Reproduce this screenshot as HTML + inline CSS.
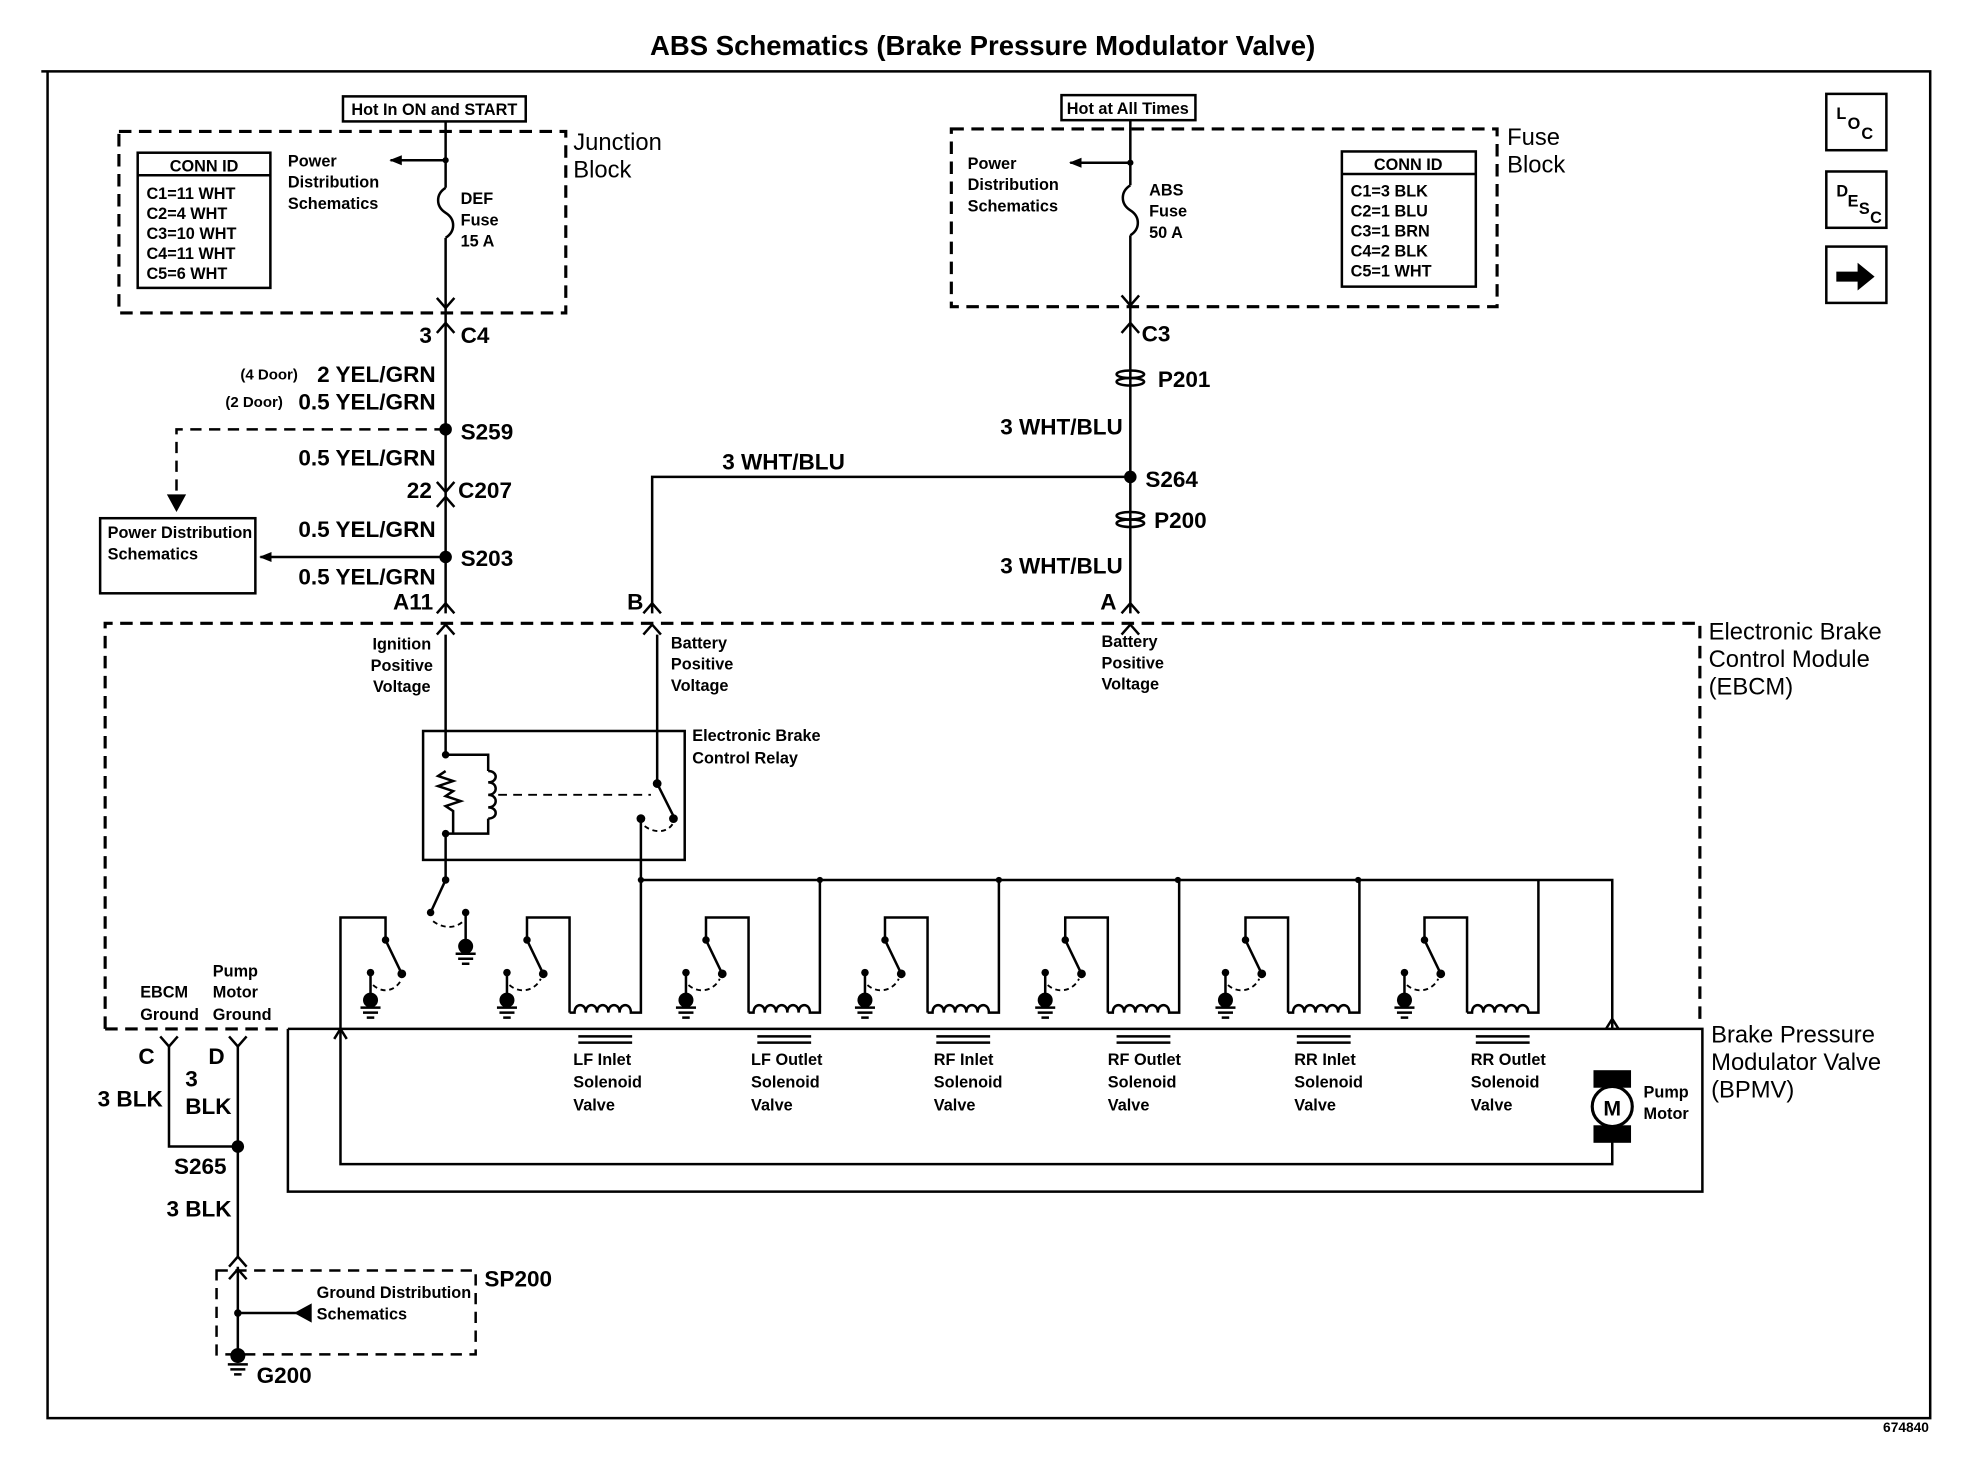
<!DOCTYPE html>
<html><head><meta charset="utf-8"><style>
html,body{margin:0;padding:0;background:#fff;}
svg{display:block;}
text{font-family:"Liberation Sans",Arial,sans-serif;fill:#000;}
.s{font-size:13px;font-weight:bold;}
.m{font-size:18px;font-weight:bold;}
.l{font-size:19px;}
</style></head><body>
<svg width="1964" height="1472" viewBox="0 0 1569 1176" preserveAspectRatio="none" xmlns="http://www.w3.org/2000/svg">
<defs>
<marker id="ar" markerWidth="10" markerHeight="10" refX="9" refY="5" orient="auto" markerUnits="userSpaceOnUse"><path d="M0,1 L10,5 L0,9 z" fill="#000"/></marker>
</defs>
<g fill="none" stroke="#000" stroke-width="2">
<path d="M33,57 H1542 V1133 H38 V57"/>
<rect x="1459" y="75" width="48" height="45"/>
<rect x="1459" y="137" width="48" height="45"/>
<rect x="1459" y="197" width="48" height="45"/>
<!-- junction block -->
<rect x="95" y="105" width="357" height="145" stroke-dasharray="10,6" stroke-width="2.5"/>
<rect x="274" y="77" width="146" height="20"/>
<rect x="110" y="122" width="106" height="108"/>
<path d="M110,140 H216"/>
<path d="M356,97 V150 M356,190 V490"/>
<path d="M356,150 c-8,5 -8,15 0,20 c8,5 8,15 0,20"/>
<path d="M356,128 H312" marker-end="url(#ar)"/>
<path d="M349,238 L356,246 L363,238"/>
<path d="M349,266 L356,258 L363,266"/>
<!-- fuse block -->
<rect x="760" y="103" width="436" height="142" stroke-dasharray="10,6" stroke-width="2.5"/>
<rect x="848" y="76" width="107" height="20"/>
<rect x="1072" y="121" width="107" height="108"/>
<path d="M1072,139 H1179"/>
<path d="M903,96 V148 M903,188 V490"/>
<path d="M903,148 c-8,5 -8,15 0,20 c8,5 8,15 0,20"/>
<path d="M903,130 H855" marker-end="url(#ar)"/>
<path d="M896,236 L903,244 L910,236"/>
<path d="M896,266 L903,258 L910,266"/>
<ellipse cx="903" cy="299" rx="11" ry="3"/><ellipse cx="903" cy="305" rx="11" ry="3"/>
<ellipse cx="903" cy="412" rx="11" ry="3"/><ellipse cx="903" cy="418" rx="11" ry="3"/>
<path d="M903,381 H521 V490"/>
<path d="M514,490 L521,482 L528,490"/>
<path d="M896,490 L903,482 L910,490"/>
<path d="M349,490 L356,482 L363,490"/>
<path d="M349,405 L356,397 L363,405"/>
<path d="M349,385 L356,393 L363,385"/>
<path d="M356,343 H141 V403" stroke-dasharray="9,6"/>
<path d="M135,396 L141,407 L147,396 z" fill="#000"/>
<rect x="80" y="414" width="124" height="60"/>
<path d="M356,445 H208" marker-end="url(#ar)"/>
<!-- EBCM -->
<path d="M84,822 V498 H1358 V815" stroke-dasharray="10,6" stroke-width="2.5"/>
<path d="M84,822 H228" stroke-dasharray="10,6" stroke-width="2.5"/>
<path d="M349,507 L356,499 L363,507 M514,507 L521,499 L528,507 M896,507 L903,499 L910,507"/>
<!-- relay -->
<rect x="338" y="584" width="209" height="103"/>
<path d="M356,507 V603 M356,666 V703"/>
<path d="M356,603 H390 V616 M390,654 V666 H356"/>
<path d="M356,616 l-6,4 l12,4 l-12,4 l12,4 l-6,4 l12,4 l-12,4 l6,4 V666"/>
<path d="M390,616 c8,0 8,9 0,9 c8,0 8,10 0,10 c8,0 8,10 0,10 c8,0 8,9 0,9"/>
<path d="M398,635 H520" stroke-dasharray="7,5" stroke-width="1.5"/>
<path d="M525,507 V626 L538,652"/>
<path d="M512,654 V703 H1288 V822"/>
<path d="M515,660 c8,6 20,6 24,-5" stroke-dasharray="4,3" stroke-width="1.5"/>
<path d="M356,703 L344,729"/>
<path d="M346,736 c8,6 18,6 24,0" stroke-dasharray="4,3" stroke-width="1.5"/>
<path d="M372,729 V756 M364,762 H380 M366,766 H378 M369,770 H375"/>
<!-- pump switch group -->
<path d="M272,822 V733 H308 V751 L321,778"/>
<path d="M296,777 V799 M288,805 H304 M290,809 H302 M293,813 H299"/>
<path d="M298,787 c8,7 18,5 23,-5" stroke-dasharray="4,3" stroke-width="1.5"/>
<path d="M267,830 L272,822 L277,830"/>
<path d="M272,822 V930 H1288 V909"/>
<!-- solenoid group -->
<g id="g1">
<path d="M421,751 V733 H455 V809"/>
<path d="M421,751 L434,778"/>
<path d="M405,777 V799 M397,805 H413 M399,809 H411 M402,813 H408"/>
<path d="M407,787 c8,7 20,5 25,-5" stroke-dasharray="4,3" stroke-width="1.5"/>
<path d="M455,809 H459 c0,-8 9,-8 9,0 c0,-8 9,-8 9,0 c0,-8 9,-8 9,0 c0,-8 9,-8 9,0 c0,-8 9,-8 9,0 H512 V703"/>
<path d="M462,828 H505 M462,833 H505" stroke-width="2"/>
</g>
<use href="#g1" x="143"/>
<use href="#g1" x="286"/>
<use href="#g1" x="430"/>
<use href="#g1" x="574"/>
<use href="#g1" x="717"/>
<!-- BPMV -->
<path d="M230,822 H1360 V952 H230 V822"/>
<path d="M1283,822 L1288,814 L1293,822"/>
<rect x="1274" y="856" width="28" height="12" fill="#000"/>
<rect x="1274" y="900" width="28" height="12" fill="#000"/>
<circle cx="1288" cy="884" r="16" fill="#fff" stroke-width="2.5"/>
<!-- ground -->
<path d="M128,828 L135,836 L142,828 M183,828 L190,836 L197,828"/>
<path d="M135,836 V916 H190 M190,836 V1005"/>
<path d="M183,1012 L190,1004 L197,1012 M183,1022 L190,1014 L197,1022"/>
<rect x="173" y="1015" width="207" height="67" stroke-dasharray="9,6"/>
<path d="M190,1012 V1082"/>
<path d="M247,1049 H190"/>
<path d="M237,1049 L248,1043 L248,1055 z" fill="#000"/>
<path d="M182,1090 H198 M184,1094 H196 M187,1098 H193"/>
<path d="M1468,218 H1485 V212 L1496,221 L1485,230 V224 H1468 z" fill="#000"/>
</g>
<g fill="#000">
<circle cx="356" cy="343" r="5"/><circle cx="356" cy="445" r="5"/><circle cx="903" cy="381" r="5"/><circle cx="190" cy="916" r="5"/><circle cx="190" cy="1083" r="6"/><circle cx="190" cy="1049" r="3"/>
<circle cx="655" cy="703" r="2.5"/><circle cx="798" cy="703" r="2.5"/><circle cx="941" cy="703" r="2.5"/><circle cx="1085" cy="703" r="2.5"/><circle cx="512" cy="703" r="2.5"/>
<circle cx="356" cy="128" r="2.5"/><circle cx="903" cy="130" r="2.5"/>
<circle cx="356" cy="603" r="3"/><circle cx="356" cy="666" r="3"/><circle cx="525" cy="626" r="3.5"/><circle cx="538" cy="654" r="3.5"/><circle cx="512" cy="654" r="3.5"/>
<circle cx="356" cy="703" r="3"/><circle cx="344" cy="729" r="3"/><circle cx="372" cy="729" r="3"/><circle cx="372" cy="756" r="6"/>
<circle cx="308" cy="751" r="3"/><circle cx="321" cy="778" r="3.5"/><circle cx="296" cy="777" r="3"/><circle cx="296" cy="799" r="6"/>
</g>
<g id="dots" fill="#000">
<circle cx="421" cy="751" r="3"/><circle cx="434" cy="778" r="3.5"/><circle cx="405" cy="777" r="3"/><circle cx="405" cy="799" r="6"/>
</g>
<use href="#dots" x="143"/><use href="#dots" x="286"/><use href="#dots" x="430"/><use href="#dots" x="574"/><use href="#dots" x="717"/>
<text x="785" y="44" text-anchor="middle" style="font-size:22px;font-weight:bold">ABS Schematics (Brake Pressure Modulator Valve)</text>
<text x="1541" y="1144" text-anchor="end" style="font-size:11px;font-weight:bold">674840</text>
<text x="1467" y="95" class="s">L</text><text x="1476" y="103" class="s">O</text><text x="1487" y="111" class="s">C</text>
<text x="1467" y="157" class="s">D</text><text x="1476" y="165" class="s">E</text><text x="1485" y="171" class="s">S</text><text x="1494" y="178" class="s">C</text>
<text x="347" y="92" text-anchor="middle" class="s">Hot In ON and START</text>
<text x="901" y="91" text-anchor="middle" class="s">Hot at All Times</text>
<text x="458" y="120" class="l">Junction</text><text x="458" y="142" class="l">Block</text>
<text x="1204" y="116" class="l">Fuse</text><text x="1204" y="138" class="l">Block</text>
<text x="163" y="137" text-anchor="middle" class="s">CONN ID</text>
<text x="117" y="159" class="s">C1=11 WHT</text><text x="117" y="175" class="s">C2=4 WHT</text><text x="117" y="191" class="s">C3=10 WHT</text><text x="117" y="207" class="s">C4=11 WHT</text><text x="117" y="223" class="s">C5=6 WHT</text>
<text x="1125" y="136" text-anchor="middle" class="s">CONN ID</text>
<text x="1079" y="157" class="s">C1=3 BLK</text><text x="1079" y="173" class="s">C2=1 BLU</text><text x="1079" y="189" class="s">C3=1 BRN</text><text x="1079" y="205" class="s">C4=2 BLK</text><text x="1079" y="221" class="s">C5=1 WHT</text>
<text x="230" y="133" class="s">Power</text><text x="230" y="150" class="s">Distribution</text><text x="230" y="167" class="s">Schematics</text>
<text x="773" y="135" class="s">Power</text><text x="773" y="152" class="s">Distribution</text><text x="773" y="169" class="s">Schematics</text>
<text x="368" y="163" class="s">DEF</text><text x="368" y="180" class="s">Fuse</text><text x="368" y="197" class="s">15 A</text>
<text x="918" y="156" class="s">ABS</text><text x="918" y="173" class="s">Fuse</text><text x="918" y="190" class="s">50 A</text>
<text x="345" y="274" text-anchor="end" class="m">3</text><text x="368" y="274" class="m">C4</text>
<text x="912" y="273" class="m">C3</text>
<text x="238" y="303" text-anchor="end" style="font-size:12px;font-weight:bold">(4 Door)</text><text x="348" y="305" text-anchor="end" class="m">2 YEL/GRN</text>
<text x="226" y="325" text-anchor="end" style="font-size:12px;font-weight:bold">(2 Door)</text><text x="348" y="327" text-anchor="end" class="m">0.5 YEL/GRN</text>
<text x="368" y="351" class="m">S259</text>
<text x="348" y="372" text-anchor="end" class="m">0.5 YEL/GRN</text>
<text x="345" y="398" text-anchor="end" class="m">22</text><text x="366" y="398" class="m">C207</text>
<text x="348" y="429" text-anchor="end" class="m">0.5 YEL/GRN</text>
<text x="368" y="452" class="m">S203</text>
<text x="348" y="467" text-anchor="end" class="m">0.5 YEL/GRN</text>
<text x="346" y="487" text-anchor="end" class="m">A11</text>
<text x="86" y="430" class="s">Power Distribution</text><text x="86" y="447" class="s">Schematics</text>
<text x="925" y="309" class="m">P201</text>
<text x="897" y="347" text-anchor="end" class="m">3 WHT/BLU</text>
<text x="915" y="389" class="m">S264</text>
<text x="922" y="422" class="m">P200</text>
<text x="897" y="458" text-anchor="end" class="m">3 WHT/BLU</text>
<text x="892" y="487" text-anchor="end" class="m">A</text>
<text x="514" y="487" text-anchor="end" class="m">B</text>
<text x="577" y="375" class="m">3 WHT/BLU</text>
<text x="1365" y="511" class="l">Electronic Brake</text><text x="1365" y="533" class="l">Control Module</text><text x="1365" y="555" class="l">(EBCM)</text>
<text x="321" y="519" text-anchor="middle" class="s">Ignition</text><text x="321" y="536" text-anchor="middle" class="s">Positive</text><text x="321" y="553" text-anchor="middle" class="s">Voltage</text>
<text x="536" y="518" class="s">Battery</text><text x="536" y="535" class="s">Positive</text><text x="536" y="552" class="s">Voltage</text>
<text x="880" y="517" class="s">Battery</text><text x="880" y="534" class="s">Positive</text><text x="880" y="551" class="s">Voltage</text>
<text x="553" y="592" class="s">Electronic Brake</text><text x="553" y="610" class="s">Control Relay</text>
<text x="170" y="780" class="s">Pump</text>
<text x="112" y="797" class="s">EBCM</text><text x="170" y="797" class="s">Motor</text>
<text x="112" y="815" class="s">Ground</text><text x="170" y="815" class="s">Ground</text>
<text x="1367" y="833" class="l">Brake Pressure</text><text x="1367" y="855" class="l">Modulator Valve</text><text x="1367" y="877" class="l">(BPMV)</text>
<text x="458" y="851" class="s">LF Inlet</text><text x="458" y="869" class="s">Solenoid</text><text x="458" y="887" class="s">Valve</text>
<text x="600" y="851" class="s">LF Outlet</text><text x="600" y="869" class="s">Solenoid</text><text x="600" y="887" class="s">Valve</text>
<text x="746" y="851" class="s">RF Inlet</text><text x="746" y="869" class="s">Solenoid</text><text x="746" y="887" class="s">Valve</text>
<text x="885" y="851" class="s">RF Outlet</text><text x="885" y="869" class="s">Solenoid</text><text x="885" y="887" class="s">Valve</text>
<text x="1034" y="851" class="s">RR Inlet</text><text x="1034" y="869" class="s">Solenoid</text><text x="1034" y="887" class="s">Valve</text>
<text x="1175" y="851" class="s">RR Outlet</text><text x="1175" y="869" class="s">Solenoid</text><text x="1175" y="887" class="s">Valve</text>
<text x="1288" y="891" text-anchor="middle" style="font-size:17px;font-weight:bold">M</text>
<text x="1313" y="877" class="s">Pump</text><text x="1313" y="894" class="s">Motor</text>
<text x="117" y="850" text-anchor="middle" class="m">C</text><text x="173" y="850" text-anchor="middle" class="m">D</text>
<text x="130" y="884" text-anchor="end" class="m">3 BLK</text>
<text x="148" y="868" class="m">3</text><text x="148" y="890" class="m">BLK</text>
<text x="181" y="938" text-anchor="end" class="m">S265</text>
<text x="185" y="972" text-anchor="end" class="m">3 BLK</text>
<text x="387" y="1028" class="m">SP200</text>
<text x="253" y="1037" class="s">Ground Distribution</text><text x="253" y="1054" class="s">Schematics</text>
<text x="205" y="1105" class="m">G200</text>
</svg>
</body></html>
